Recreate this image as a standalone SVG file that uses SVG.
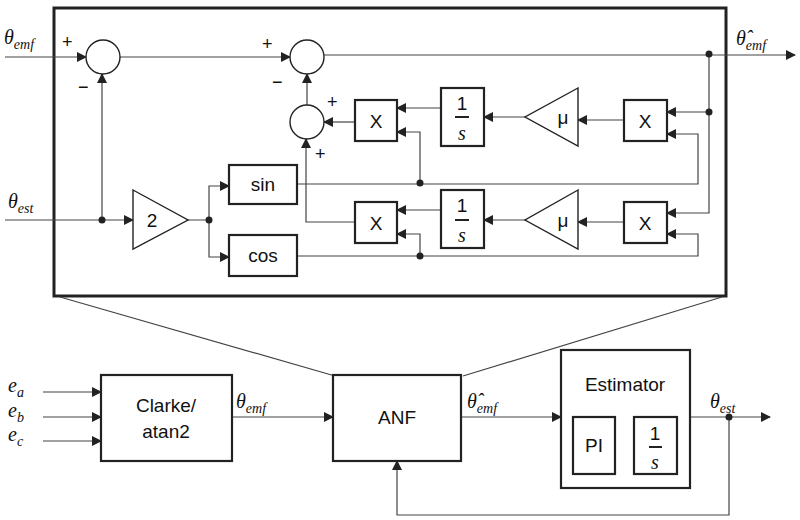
<svg xmlns="http://www.w3.org/2000/svg" width="800" height="520" viewBox="0 0 800 520">
<defs>
<marker id="a" markerWidth="10" markerHeight="10" refX="9" refY="5" orient="auto" markerUnits="userSpaceOnUse"><path d="M0,0 L10,5 L0,10 Z" fill="#222"/></marker>
</defs>
<style>
.l{fill:none;stroke:#444;stroke-width:1.2}
.b{fill:#fff;stroke:#222;stroke-width:2.2}
.c{fill:#fff;stroke:#222;stroke-width:1.4}
.t{font-family:"Liberation Sans",Arial,sans-serif;font-size:19px;fill:#111;text-anchor:middle}
.m{font-family:"Liberation Serif","DejaVu Serif",serif;font-style:italic;font-size:20px;fill:#111}
.s{font-size:14px}
.p{font-family:"Liberation Sans",sans-serif;font-size:18px;fill:#111}
</style>
<rect x="54" y="8" width="672" height="288" fill="none" stroke="#222" stroke-width="3"/>
<g id="connectors">
<path class="l" d="M5,57 H86" marker-end="url(#a)"/>
<path class="l" d="M120,57 H290" marker-end="url(#a)"/>
<path class="l" d="M324,55 H795" marker-end="url(#a)"/>
<path class="l" d="M709,54 V213 H667" marker-end="url(#a)"/>
<path class="l" d="M709,112 H667" marker-end="url(#a)"/>
<path class="l" d="M5,220 H133" marker-end="url(#a)"/>
<path class="l" d="M102,220 V74" marker-end="url(#a)"/>
<path class="l" d="M188,220 H209 V186 H229" marker-end="url(#a)"/>
<path class="l" d="M209,220 V257 H229" marker-end="url(#a)"/>
<path class="l" d="M297,184 H698 V134 H667" marker-end="url(#a)"/>
<path class="l" d="M297,256 H698 V234 H667" marker-end="url(#a)"/>
<path class="l" d="M420,183 V132 H397" marker-end="url(#a)"/>
<path class="l" d="M420,256 V234 H397" marker-end="url(#a)"/>
<path class="l" d="M624,120 H578" marker-end="url(#a)"/>
<path class="l" d="M525,117 H484" marker-end="url(#a)"/>
<path class="l" d="M441,108 H397" marker-end="url(#a)"/>
<path class="l" d="M624,222 H578" marker-end="url(#a)"/>
<path class="l" d="M525,220 H484" marker-end="url(#a)"/>
<path class="l" d="M441,210 H397" marker-end="url(#a)"/>
<path class="l" d="M355,122 H324" marker-end="url(#a)"/>
<path class="l" d="M307,105 V74" marker-end="url(#a)"/>
<path class="l" d="M355,222 H306 V139" marker-end="url(#a)"/>
<path class="l" d="M60,297 L335,376 M722,297 L463,376"/>
<path class="l" d="M43,392 H101" marker-end="url(#a)"/>
<path class="l" d="M43,417 H101" marker-end="url(#a)"/>
<path class="l" d="M43,441 H101" marker-end="url(#a)"/>
<path class="l" d="M232,417 H333" marker-end="url(#a)"/>
<path class="l" d="M461,417 H561" marker-end="url(#a)"/>
<path class="l" d="M615,445 H634" marker-end="url(#a)"/>
<path class="l" d="M690,417 H770" marker-end="url(#a)"/>
<path class="l" d="M729,417 V515 H397 V461" marker-end="url(#a)"/>
<g fill="#222"><circle cx="709" cy="54" r="3.5"/><circle cx="709" cy="112" r="3.5"/><circle cx="102" cy="220" r="3.5"/><circle cx="209" cy="220" r="3.5"/><circle cx="420" cy="183" r="3.5"/><circle cx="420" cy="256" r="3.5"/><circle cx="729" cy="417" r="3.5"/></g>
</g>
<g id="sum1"><circle class="c" cx="103" cy="57" r="17"/></g>
<g id="sum2"><circle class="c" cx="307" cy="57" r="17"/></g>
<g id="sum3"><circle class="c" cx="307" cy="122" r="17"/></g>
<g id="signs" class="p"><text x="62" y="48">+</text><text x="78" y="93">−</text><text x="262" y="50">+</text><text x="272" y="88">−</text><text x="327" y="108">+</text><text x="315" y="160">+</text></g>
<g id="gain2"><path class="c" d="M133,190 L188,220 L133,249 Z"/><text class="t" x="152" y="227">2</text></g>
<g id="sin"><rect class="b" x="229" y="165" width="68" height="39"/><text class="t" x="263" y="191">sin</text></g>
<g id="cos"><rect class="b" x="229" y="235" width="68" height="41"/><text class="t" x="263" y="262">cos</text></g>
<g id="x1"><rect class="b" x="355" y="100" width="42" height="41"/><text class="t" x="376" y="128">X</text></g>
<g id="x2"><rect class="b" x="355" y="202" width="42" height="41"/><text class="t" x="376" y="230">X</text></g>
<g id="x3"><rect class="b" x="624" y="100" width="43" height="41"/><text class="t" x="645" y="128">X</text></g>
<g id="x4"><rect class="b" x="624" y="202" width="43" height="41"/><text class="t" x="645" y="230">X</text></g>
<g id="int1"><rect class="b" x="441" y="88" width="43" height="58"/><text class="t" x="462" y="110">1</text><path d="M455,117 H469" stroke="#222" stroke-width="2"/><text class="m" x="462" y="140" text-anchor="middle">s</text></g>
<g id="int2"><rect class="b" x="441" y="190" width="43" height="58"/><text class="t" x="462" y="212">1</text><path d="M455,220 H469" stroke="#222" stroke-width="2"/><text class="m" x="462" y="242" text-anchor="middle">s</text></g>
<g id="mu1"><path class="c" d="M578,88 L525,117 L578,146 Z"/><text class="t" x="563" y="124">μ</text></g>
<g id="mu2"><path class="c" d="M578,190 L525,220 L578,249 Z"/><text class="t" x="563" y="227">μ</text></g>
<g id="labels">
<text class="m" x="4" y="44">θ<tspan class="s" dy="5">emf</tspan></text>
<text class="m" x="8" y="208">θ<tspan class="s" dy="5">est</tspan></text>
<text class="m" x="736" y="45">θ̂<tspan class="s" dy="5">emf</tspan></text>
<text class="m" x="8" y="392">e<tspan class="s" dy="5">a</tspan></text>
<text class="m" x="8" y="417">e<tspan class="s" dy="5">b</tspan></text>
<text class="m" x="8" y="441">e<tspan class="s" dy="5">c</tspan></text>
<text class="m" x="236" y="408">θ<tspan class="s" dy="5">emf</tspan></text>
<text class="m" x="467" y="408">θ̂<tspan class="s" dy="5">emf</tspan></text>
<text class="m" x="710" y="408">θ<tspan class="s" dy="5">est</tspan></text>
</g>
<g id="clarke"><rect class="b" x="101" y="375" width="131" height="86"/><text class="t" x="166" y="412">Clarke/</text><text class="t" x="166" y="438">atan2</text></g>
<g id="anf"><rect class="b" x="333" y="375" width="128" height="86"/><text class="t" x="397" y="424">ANF</text></g>
<g id="estimator"><rect class="b" x="561" y="350" width="129" height="138"/><text class="t" x="625" y="391">Estimator</text>
<rect class="b" x="573" y="417" width="42" height="57"/><text class="t" x="594" y="452">PI</text>
<rect class="b" x="634" y="417" width="43" height="57"/><text class="t" x="655" y="440">1</text><path d="M649,447 H662" stroke="#222" stroke-width="2"/><text class="m" x="655" y="469" text-anchor="middle">s</text></g>
</svg>
